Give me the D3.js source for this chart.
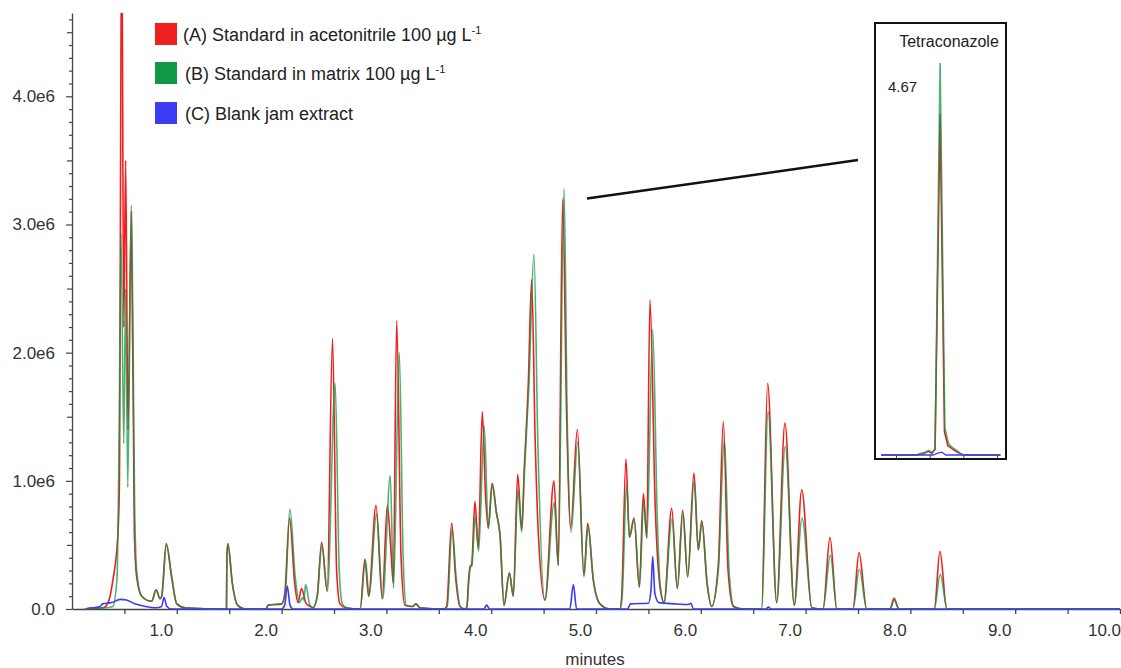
<!DOCTYPE html>
<html>
<head>
<meta charset="utf-8">
<script src="https://cdn.jsdelivr.net/npm/d3@7"></script>
<style>
  body { margin: 0; background: #ffffff; }
</style>
</head>
<body>
<div id="chart"></div>
<script>
const width = 1121;
const height = 668;

const fontFamily = '"Liberation Sans", Arial, sans-serif';
const colorA = '#ee1f1f';
const colorB = '#119745';
const colorC = '#3c3cf2';
const colorAxis = '#444';
const colorText = '#333';

// retention time (min), intensity (x 1e6 counts)
const traceA = [
  [0.12, 0.0], [0.20, 0.005], [0.30, 0.01], [0.344, 0.05], [0.391, 0.23], [0.436, 0.56],
  [0.452, 0.95], [0.474, 5.5], [0.494, 2.2], [0.512, 3.5], [0.534, 1.4], [0.566, 3.1],
  [0.595, 0.6], [0.617, 0.25], [0.665, 0.1], [0.760, 0.06], [0.803, 0.15], [0.840, 0.08],
  [0.856, 0.1], [0.899, 0.51], [0.950, 0.25], [1.00, 0.04], [1.08, 0.01], [1.45, 0.0],
  [1.474, 0.0], [1.478, 0.42], [1.487, 0.51], [1.53, 0.2], [1.58, 0.03], [1.65, 0.0],
  [1.85, 0.0], [1.872, 0.03], [2.00, 0.04], [2.03, 0.12], [2.076, 0.71], [2.125, 0.2],
  [2.156, 0.05], [2.191, 0.16], [2.23, 0.05], [2.27, 0.02], [2.30, 0.01], [2.34, 0.1],
  [2.382, 0.52], [2.435, 0.14], [2.486, 2.11], [2.525, 0.3], [2.557, 0.04], [2.61, 0.01],
  [2.75, 0.0], [2.795, 0.39], [2.83, 0.1], [2.901, 0.81], [2.96, 0.08], [3.009, 0.81],
  [3.04, 0.5], [3.066, 0.2], [3.098, 2.25], [3.14, 0.4], [3.177, 0.03], [3.25, 0.02],
  [3.28, 0.04], [3.32, 0.01], [3.55, 0.0], [3.575, 0.02], [3.623, 0.67], [3.66, 0.25],
  [3.702, 0.02], [3.75, 0.0], [3.769, 0.02], [3.782, 0.2], [3.798, 0.33], [3.814, 0.35],
  [3.845, 0.84], [3.877, 0.475], [3.915, 1.54], [3.945, 0.9], [3.972, 0.63], [4.008, 0.98],
  [4.05, 0.75], [4.084, 0.58], [4.122, 0.03], [4.173, 0.28], [4.211, 0.1], [4.253, 1.05],
  [4.291, 0.62], [4.316, 1.1], [4.354, 1.76], [4.386, 2.57], [4.42, 1.3], [4.449, 0.6],
  [4.513, 0.07], [4.599, 1.0], [4.640, 0.34], [4.682, 3.2], [4.72, 1.5], [4.759, 0.63],
  [4.822, 1.40], [4.885, 0.265], [4.921, 0.67], [4.974, 0.23], [5.038, 0.04], [5.13, 0.0],
  [5.229, 0.0], [5.245, 0.1], [5.286, 1.17], [5.318, 0.56], [5.363, 0.71], [5.413, 0.17],
  [5.452, 0.9], [5.484, 0.56], [5.515, 2.41], [5.565, 0.8], [5.611, 0.17], [5.649, 0.05],
  [5.722, 0.785], [5.776, 0.16], [5.827, 0.77], [5.875, 0.25], [5.935, 1.06], [5.976, 0.46],
  [6.009, 0.69], [6.06, 0.2], [6.104, 0.02], [6.167, 0.34], [6.215, 1.46], [6.26, 0.3],
  [6.310, 0.02], [6.40, 0.0], [6.58, 0.0], [6.638, 1.76], [6.724, 0.05], [6.803, 1.45],
  [6.892, 0.03], [6.963, 0.93], [7.058, 0.01], [7.166, 0.0], [7.233, 0.56], [7.297, 0.0],
  [7.452, 0.0], [7.510, 0.44], [7.583, 0.0], [7.805, 0.0], [7.844, 0.083], [7.891, 0.0],
  [8.228, 0.0], [8.282, 0.45], [8.347, 0.0], [10.0, 0.0]
];

const traceB = [
  [0.12, 0.0], [0.20, 0.005], [0.30, 0.008], [0.39, 0.02], [0.43, 0.25], [0.450, 1.4],
  [0.468, 2.93], [0.494, 1.29], [0.512, 2.5], [0.532, 0.95], [0.566, 3.15], [0.60, 0.7],
  [0.617, 0.3], [0.665, 0.1], [0.760, 0.06], [0.803, 0.15], [0.840, 0.08], [0.856, 0.1],
  [0.902, 0.5], [0.952, 0.25], [1.00, 0.04], [1.08, 0.01], [1.45, 0.0], [1.474, 0.0],
  [1.478, 0.42], [1.489, 0.5], [1.53, 0.2], [1.58, 0.03], [1.65, 0.0], [1.85, 0.0],
  [1.872, 0.03], [2.00, 0.04], [2.035, 0.12], [2.079, 0.78], [2.13, 0.25], [2.17, 0.05],
  [2.20, 0.09], [2.212, 0.07], [2.229, 0.19], [2.27, 0.03], [2.30, 0.01], [2.34, 0.1],
  [2.384, 0.5], [2.437, 0.14], [2.511, 1.76], [2.55, 0.3], [2.58, 0.04], [2.62, 0.01],
  [2.75, 0.0], [2.80, 0.38], [2.835, 0.1], [2.905, 0.74], [2.965, 0.08], [3.037, 1.04],
  [3.068, 0.16], [3.123, 2.0], [3.16, 0.4], [3.19, 0.03], [3.25, 0.02], [3.282, 0.04],
  [3.32, 0.01], [3.55, 0.0], [3.58, 0.02], [3.627, 0.63], [3.665, 0.25], [3.705, 0.02],
  [3.75, 0.0], [3.769, 0.02], [3.785, 0.2], [3.80, 0.32], [3.816, 0.34], [3.847, 0.72],
  [3.88, 0.45], [3.934, 1.43], [3.972, 0.63], [4.012, 0.97], [4.05, 0.75], [4.084, 0.58],
  [4.122, 0.03], [4.175, 0.28], [4.211, 0.1], [4.255, 0.93], [4.291, 0.6], [4.316, 1.05],
  [4.36, 1.75], [4.408, 2.77], [4.445, 1.3], [4.513, 0.07], [4.601, 0.83], [4.640, 0.34],
  [4.695, 3.28], [4.725, 1.5], [4.762, 0.6], [4.825, 1.30], [4.885, 0.25], [4.925, 0.65],
  [4.974, 0.23], [5.038, 0.04], [5.13, 0.0], [5.229, 0.0], [5.25, 0.1], [5.293, 0.97],
  [5.32, 0.56], [5.365, 0.7], [5.415, 0.17], [5.455, 0.83], [5.486, 0.55], [5.541, 2.18],
  [5.585, 0.7], [5.611, 0.2], [5.649, 0.05], [5.725, 0.7], [5.776, 0.16], [5.83, 0.75],
  [5.875, 0.25], [5.937, 1.0], [5.976, 0.46], [6.011, 0.68], [6.06, 0.2], [6.104, 0.02],
  [6.167, 0.3], [6.225, 1.32], [6.27, 0.3], [6.315, 0.02], [6.40, 0.0], [6.58, 0.0],
  [6.642, 1.54], [6.724, 0.05], [6.806, 1.27], [6.892, 0.03], [6.966, 0.71], [7.06, 0.01],
  [7.166, 0.0], [7.236, 0.42], [7.30, 0.0], [7.452, 0.0], [7.513, 0.31], [7.583, 0.0],
  [7.805, 0.0], [7.846, 0.07], [7.891, 0.0], [8.228, 0.0], [8.285, 0.27], [8.35, 0.0],
  [10.0, 0.0]
];

const traceC = [
  [0.145, 0.005], [0.20, 0.01], [0.27, 0.02], [0.29, 0.04], [0.38, 0.05], [0.46, 0.075],
  [0.52, 0.07], [0.60, 0.04], [0.70, 0.02], [0.80, 0.01], [0.855, 0.02], [0.878, 0.09],
  [0.905, 0.02], [0.95, 0.0], [2.00, 0.0], [2.03, 0.03], [2.054, 0.18], [2.08, 0.03],
  [2.11, 0.0], [3.93, 0.0], [3.957, 0.03], [3.985, 0.0], [4.75, 0.0], [4.784, 0.19],
  [4.815, 0.0], [5.30, 0.0], [5.33, 0.04], [5.50, 0.045], [5.525, 0.15], [5.541, 0.41],
  [5.562, 0.12], [5.60, 0.05], [5.75, 0.04], [5.88, 0.035], [5.905, 0.045], [5.93, 0.0],
  [6.62, 0.0], [6.645, 0.015], [6.67, 0.0], [10.0, 0.0]
];

// zoomed view of the tetraconazole peak
const insetA = [
  [4.578, 0.0], [4.63, 0.0], [4.642, 0.02], [4.648, 0.04], [4.653, 0.02], [4.658, 0.06],
  [4.6655, 3.7], [4.672, 0.25], [4.677, 0.1], [4.683, 0.07], [4.689, 0.04], [4.694, 0.02],
  [4.70, 0.0], [4.755, 0.0]
];
const insetB = [
  [4.578, 0.0], [4.63, 0.0], [4.643, 0.03], [4.649, 0.05], [4.654, 0.02], [4.658, 0.07],
  [4.6655, 4.25], [4.6725, 0.3], [4.678, 0.12], [4.684, 0.08], [4.69, 0.05], [4.695, 0.02],
  [4.70, 0.0], [4.755, 0.0]
];
const insetC = [
  [4.578, 0.0], [4.655, 0.0], [4.662, 0.02], [4.668, 0.03], [4.674, 0.0], [4.755, 0.0]
];

const xTicks = d3.range(1, 21).map(i => i * 0.5);
const xLabels = [1, 2, 3, 4, 5, 6, 7, 8, 9, 10];
const yTicks = d3.range(0, 47).map(i => i / 10);
const yLabels = [0, 1, 2, 3, 4];
const insetTicks = [4.60, 4.65, 4.70, 4.75];
const insetTitle = 'Tetraconazole';
const insetRT = '4.67';

const legendItems = [
  { label: '(A) Standard in acetonitrile 100 µg L', sup: '-1', color: colorA },
  { label: '(B) Standard in matrix 100 µg L', sup: '-1', color: colorB },
  { label: '(C) Blank jam extract', sup: '', color: colorC }
];

const svg = d3.select('#chart')
    .append('svg')
    .attr('width', width)
    .attr('height', height)
    .style('font-family', fontFamily);

const x = d3.scaleLinear().domain([0, 10]).range([72, 1120]);
const y = d3.scaleLinear().domain([0, 4.65]).range([609, 13]);

svg.append('clipPath')
    .attr('id', 'plotClip')
    .append('rect')
    .attr('x', 72)
    .attr('y', 13)
    .attr('width', width - 72)
    .attr('height', 600);

// axes
const xAxis = d3.axisBottom(x)
    .tickValues(xTicks)
    .tickSize(5)
    .tickSizeOuter(0)
    .tickPadding(10)
    .tickFormat(d => xLabels.includes(d) ? d.toFixed(1) : '');

svg.append('g')
    .attr('transform', 'translate(0,' + y(0) + ')')
    .call(xAxis)
    .call(g => g.attr('font-family', fontFamily).attr('font-size', 17))
    .call(g => g.select('.domain').attr('stroke', colorAxis).attr('stroke-width', 1.3))
    .call(g => g.selectAll('.tick line').attr('stroke', colorAxis).attr('stroke-width', 1.3))
    .call(g => g.selectAll('.tick text').attr('x', -16).attr('fill', colorText));

const yAxis = d3.axisLeft(y)
    .tickValues(yTicks)
    .tickSize(3)
    .tickSizeOuter(0)
    .tickPadding(14)
    .tickFormat(d => yLabels.includes(d) ? (d === 0 ? '0.0' : d.toFixed(1) + 'e6') : '');

svg.append('g')
    .attr('transform', 'translate(' + x(0) + ',0)')
    .call(yAxis)
    .call(g => g.attr('font-family', fontFamily).attr('font-size', 17))
    .call(g => g.select('.domain').attr('stroke', colorAxis).attr('stroke-width', 1.3))
    .call(g => g.selectAll('.tick line').attr('stroke', colorAxis).attr('stroke-width', 1.2)
        .attr('x2', d => yLabels.includes(d) ? -6 : (Math.round(d * 10) % 5 === 0 ? -5 : -3)))
    .call(g => g.selectAll('.tick text').attr('fill', colorText));

svg.append('text')
    .attr('x', 595)
    .attr('y', 665)
    .attr('text-anchor', 'middle')
    .attr('font-size', 17)
    .attr('fill', colorText)
    .text('minutes');

// traces
const line = d3.line()
    .x(d => x(d[0]))
    .y(d => y(d[1]))
    .curve(d3.curveMonotoneX);

const plot = svg.append('g').attr('clip-path', 'url(#plotClip)');

plot.append('path')
    .datum(traceA)
    .attr('d', line)
    .attr('fill', 'none')
    .attr('stroke', colorA)
    .attr('stroke-width', 1.6);

plot.append('path')
    .datum(traceB)
    .attr('d', line)
    .attr('fill', 'none')
    .attr('stroke', colorB)
    .attr('stroke-opacity', 0.75)
    .attr('stroke-width', 1.6);

plot.append('path')
    .datum(traceC)
    .attr('d', line)
    .attr('fill', 'none')
    .attr('stroke', colorC)
    .attr('stroke-width', 1.6);

// legend
const legend = svg.append('g').attr('transform', 'translate(155,23)');

const legendRow = legend.selectAll('g')
    .data(legendItems)
    .enter()
    .append('g')
    .attr('transform', (d, i) => 'translate(0,' + [0, 39, 79][i] + ')');

legendRow.append('rect')
    .attr('width', 22)
    .attr('height', 22)
    .attr('fill', d => d.color);

const legendText = legendRow.append('text')
    .attr('x', (d, i) => i === 0 ? 28 : 30)
    .attr('y', 18)
    .attr('font-size', 18)
    .attr('fill', '#222')
    .text(d => d.label);

legendText.append('tspan')
    .attr('dy', -7)
    .attr('font-size', 11)
    .text(d => d.sup);

// connector from the tetraconazole peak to the inset
const peak = traceB.reduce((a, b) => (b[0] > 4 && b[1] > a[1]) ? b : a, [0, 0]);
svg.append('line')
    .attr('x1', x(peak[0]) + 23)
    .attr('y1', y(peak[1]) + 10)
    .attr('x2', 858)
    .attr('y2', 160)
    .attr('stroke', '#111')
    .attr('stroke-width', 2.5);

// inset
const ix = d3.scaleLinear().domain([4.60, 4.75]).range([896, 997]);
const iy = d3.scaleLinear().domain([0, 4.5]).range([455, 40]);

svg.append('rect')
    .attr('x', 875)
    .attr('y', 23)
    .attr('width', 131)
    .attr('height', 436)
    .attr('fill', '#fff')
    .attr('stroke', '#111')
    .attr('stroke-width', 2);

const insetAxis = d3.axisBottom(ix)
    .tickValues(insetTicks)
    .tickSize(3)
    .tickSizeOuter(0)
    .tickFormat('');

svg.append('g')
    .attr('transform', 'translate(0,' + iy(0) + ')')
    .call(insetAxis)
    .call(g => g.select('.domain').remove())
    .call(g => g.selectAll('.tick line').attr('stroke', colorAxis));

const insetLine = d3.line()
    .x(d => ix(d[0]))
    .y(d => iy(d[1]));

svg.append('path')
    .datum(insetA)
    .attr('d', insetLine)
    .attr('fill', 'none')
    .attr('stroke', colorA)
    .attr('stroke-width', 1.6);

svg.append('path')
    .datum(insetB)
    .attr('d', insetLine)
    .attr('fill', 'none')
    .attr('stroke', colorB)
    .attr('stroke-opacity', 0.75)
    .attr('stroke-width', 1.6);

svg.append('path')
    .datum(insetC)
    .attr('d', insetLine)
    .attr('fill', 'none')
    .attr('stroke', colorC)
    .attr('stroke-width', 1.3);

svg.append('text')
    .attr('x', 949)
    .attr('y', 47)
    .attr('text-anchor', 'middle')
    .attr('font-size', 16)
    .attr('fill', '#222')
    .text(insetTitle);

svg.append('text')
    .attr('x', 888)
    .attr('y', 92)
    .attr('font-size', 15)
    .attr('fill', '#222')
    .text(insetRT);
</script>
</body>
</html>
